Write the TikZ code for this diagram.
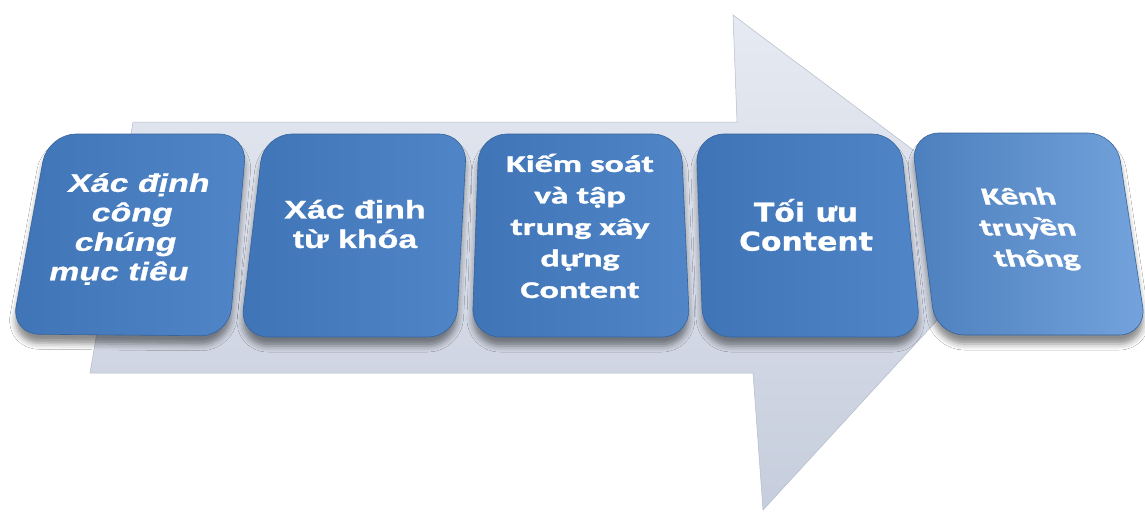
\documentclass[tikz,border=0pt]{standalone}
\usepackage{fontspec}
\newfontfamily\fArial{Liberation Sans}[BoldFeatures={FakeBold=0.8}]
\newfontfamily\fVer{DejaVu Sans}[BoldFeatures={FakeBold=0.6}]
\newfontfamily\fCal{Carlito}[BoldFeatures={FakeBold=1.2}]
\usetikzlibrary{shadows.blur}
\definecolor{boxL}{HTML}{3F74B7}
\definecolor{boxR}{HTML}{5086C7}
\definecolor{boxRR}{HTML}{74A3DC}
\definecolor{arrTop}{HTML}{E6EAF2}
\definecolor{arrBot}{HTML}{C6CDDC}
\definecolor{arrEdge}{HTML}{B4BCCB}
\begin{document}
\begin{tikzpicture}[x=1pt,y=-1pt,
  boxshape/.style={rounded corners=28pt, left color=boxL, right color=boxR,
    draw=boxL!85!black, line width=0.6pt,
    blur shadow={shadow xshift=0pt, shadow yshift=-9pt, shadow blur radius=6pt, shadow opacity=45}},
  arrowbody/.style={top color=arrTop, bottom color=arrBot, draw=arrEdge, line width=0.5pt},
  txt/.style={text=white, align=center, inner sep=0pt, transform shape},
  arialtxt/.style={txt, font=\fArial\bfseries\fontsize{25.5}{29.5}\selectfont},
  caltxt/.style={txt, font=\fCal\bfseries\fontsize{24}{31.5}\selectfont},
  vertxt/.style={txt, font=\fVer\bfseries\fontsize{26}{29}\selectfont}
]
\useasboundingbox (0,0) rectangle (1145,514);
\fill[white] (0,0) rectangle (1145,514);

% big background arrow
\path[arrowbody] (133,122) -- (737,122) -- (733,15) -- (1020,230) -- (763,510)
  -- (753,373) -- (90,373) -- cycle;

% boxes
\path[boxshape] (148,134) -- (247,134) -- (229,336) -- (11,334) -- (48,134) -- cycle;
\path[boxshape] (365,134) -- (467,134) -- (456,337) -- (240,337) -- (264,134) -- cycle;
\path[boxshape] (580,134) -- (681,134) -- (690,337) -- (472,337) -- (479,134) -- cycle;
\path[boxshape] (800,134) -- (900,134) -- (921,337) -- (703,337) -- (696,134) -- cycle;
\path[boxshape, left color=boxR!95!black, right color=boxRR]
  (1010,133) -- (1116,133) -- (1147,335) -- (936,335) -- (911,133) -- cycle;

% texts
\node[arialtxt, xscale=1.33, xslant=0.17] (b1) at (129,229) {Xác định\\công\\chúng\\mục tiêu};
\node[arialtxt, xscale=1.33] (b2) at (355,224) {Xác định\\từ khóa};
\node[caltxt, xscale=1.5] (b3) at (580,226) {Kiếm soát\\và tập\\trung xây\\dựng\\Content};
\node[vertxt, xscale=1.15] (b4) at (806,225) {Tối ưu\\Content};
\node[caltxt, xscale=1.45, xslant=-0.2, font=\fCal\bfseries\fontsize{24}{31}\selectfont] (b5) at (1028,229) {Kênh\\truyền\\thông};
\end{tikzpicture}
\end{document}
